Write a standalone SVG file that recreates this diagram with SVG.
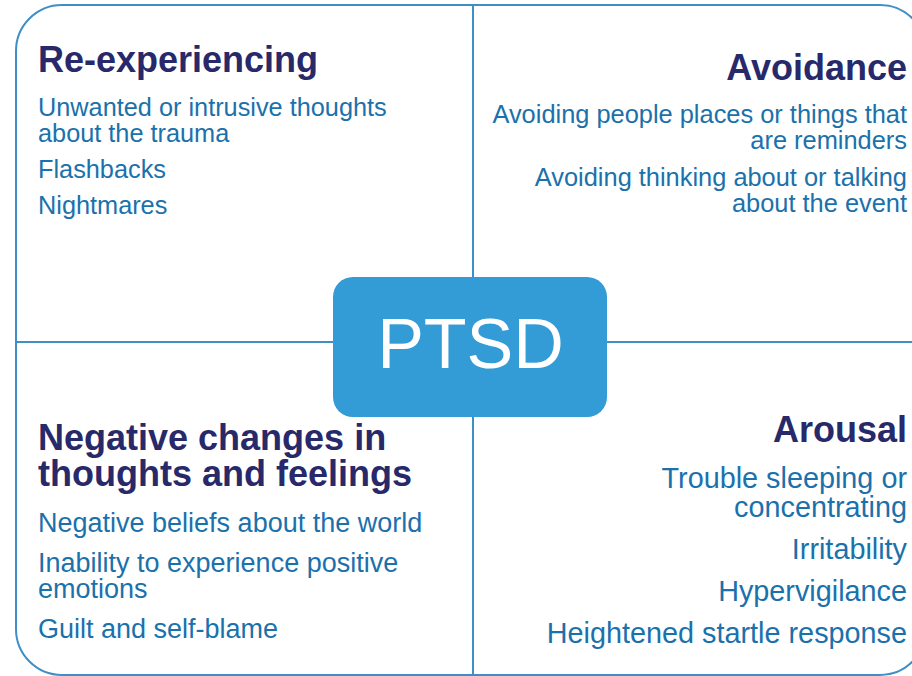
<svg xmlns="http://www.w3.org/2000/svg" width="912" height="676" viewBox="0 0 912 676">
  <style>
    .frame { fill: #ffffff; stroke: #3d8fc6; stroke-width: 2; }
    .divider { stroke: #3d8fc6; stroke-width: 2; fill: none; }
    .hub { fill: #339bd6; }
    .hub-label { font-family: "Liberation Sans", Arial, sans-serif; font-size: 70px; fill: #ffffff; text-anchor: middle; }
    .heading { font-family: "Liberation Sans", Arial, sans-serif; font-weight: bold; font-size: 36px; fill: #27296b; }
    .item { font-family: "Liberation Sans", Arial, sans-serif; fill: #1a71ab; }
    .end { text-anchor: end; }
  </style>

  <!-- outer rounded frame, running past the right and bottom edges -->
  <rect class="frame" x="16" y="5" width="910" height="670" rx="46" ry="46"/>

  <!-- quadrant dividers -->
  <g id="connectors">
    <line class="divider" x1="473" y1="5" x2="473" y2="676"/>
    <line class="divider" x1="16" y1="342" x2="912" y2="342"/>
  </g>

  <g id="re-experiencing">
    <text class="heading" x="38" y="72">Re-experiencing</text>
    <text class="item" font-size="25.3" x="38" y="116">Unwanted or intrusive thoughts<tspan x="38" dy="26">about the trauma</tspan></text>
    <text class="item" font-size="25.3" x="38" y="178">Flashbacks</text>
    <text class="item" font-size="25.3" x="38" y="214">Nightmares</text>
  </g>

  <g id="avoidance">
    <text class="heading end" x="907" y="80">Avoidance</text>
    <text class="item end" font-size="25.4" x="907" y="123">Avoiding people places or things that<tspan x="907" dy="26">are reminders</tspan></text>
    <text class="item end" font-size="25.4" x="907" y="186">Avoiding thinking about or talking<tspan x="907" dy="26">about the event</tspan></text>
  </g>

  <g id="negative-changes">
    <text class="heading" x="38" y="450">Negative changes in<tspan x="38" dy="36">thoughts and feelings</tspan></text>
    <text class="item" font-size="27" x="38" y="532">Negative beliefs about the world</text>
    <text class="item" font-size="27" x="38" y="572">Inability to experience positive<tspan x="38" dy="26">emotions</tspan></text>
    <text class="item" font-size="27" x="38" y="638">Guilt and self-blame</text>
  </g>

  <g id="arousal">
    <text class="heading end" x="907" y="442">Arousal</text>
    <text class="item end" font-size="28.8" x="907" y="488">Trouble sleeping or<tspan x="907" dy="29">concentrating</tspan></text>
    <text class="item end" font-size="28.8" x="907" y="559">Irritability</text>
    <text class="item end" font-size="28.8" x="907" y="601">Hypervigilance</text>
    <text class="item end" font-size="28.8" x="907" y="643">Heightened startle response</text>
  </g>

  <g id="ptsd">
    <rect class="hub" x="333" y="277" width="274" height="140" rx="20" ry="20"/>
    <text class="hub-label" x="470.5" y="368">PTSD</text>
  </g>
</svg>
